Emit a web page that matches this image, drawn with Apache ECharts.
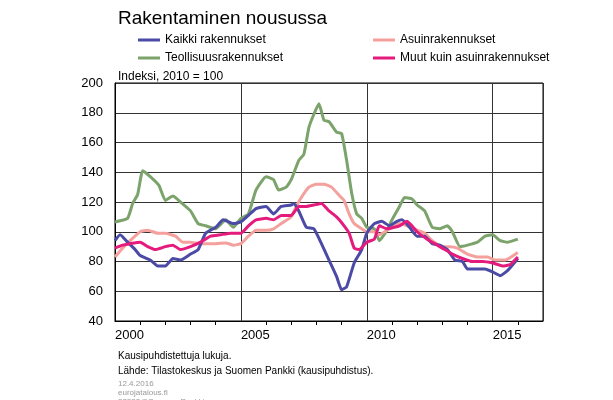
<!DOCTYPE html>
<html>
<head>
<meta charset="utf-8">
<script src="https://cdn.jsdelivr.net/npm/echarts@6/dist/echarts.min.js"></script>
<style>
body{margin:0;background:#fff;font-family:"Liberation Sans",Arial,sans-serif;}
#chart{width:613px;height:400px;}
</style>
</head>
<body>
<div id="chart"></div>
<script>
// [year, index] pairs
const kaikki = [[2000,94],[2000.2,98],[2000.5,93],[2000.8,88],[2001,84],[2001.4,81],[2001.7,77],[2002,77],[2002.3,82],[2002.6,81],[2003,85],[2003.3,88],[2003.6,99],[2004,103],[2004.3,108],[2004.7,105.5],[2005,106.6],[2005.3,111],[2005.6,115.6],[2006,117],[2006.3,112],[2006.6,117],[2007,118],[2007.1,119],[2007.3,114],[2007.6,103],[2007.9,102],[2008.2,92],[2008.5,81],[2008.8,70],[2009,61],[2009.2,63],[2009.5,79],[2009.8,88],[2010,99],[2010.3,105.5],[2010.6,107],[2010.9,104],[2011.2,107],[2011.4,108],[2011.7,103],[2012,97],[2012.3,97],[2012.6,92],[2012.9,91],[2013.2,88],[2013.5,81],[2013.8,80],[2014,75],[2014.4,75],[2014.7,75],[2015,73],[2015.3,70.5],[2015.6,74],[2016,82]];
const asuin = [[2000,83],[2000.3,89],[2000.6,94],[2001,100],[2001.3,101],[2001.7,99],[2002,99],[2002.4,97],[2002.7,93],[2003,93],[2003.4,92],[2003.7,92],[2004,92],[2004.4,92.5],[2004.7,91],[2005,92],[2005.3,97],[2005.6,101],[2006,101],[2006.3,102],[2006.6,105.5],[2007,110],[2007.2,117],[2007.4,123],[2007.7,130],[2008,132],[2008.3,132],[2008.6,130],[2008.9,124.5],[2009.1,121],[2009.3,112],[2009.5,105.5],[2009.8,102],[2010,100],[2010.3,100],[2010.5,98],[2010.8,101],[2011,103],[2011.3,105.5],[2011.6,104],[2012,101],[2012.3,99],[2012.6,94],[2013,90],[2013.3,90],[2013.6,89],[2014,85],[2014.4,83],[2014.8,83],[2015.1,81],[2015.5,81],[2016,86]];
const teollisuus = [[2000,106.6],[2000.5,109],[2000.7,119],[2000.9,125],[2001.1,141],[2001.4,137],[2001.75,131],[2002,121],[2002.3,124],[2002.6,120],[2003,114],[2003.3,105.5],[2003.6,104],[2004,102],[2004.4,108],[2004.7,103],[2005,109],[2005.3,112],[2005.6,128],[2006,137],[2006.3,135],[2006.5,128],[2006.8,130],[2007,135],[2007.3,148],[2007.5,152],[2007.7,170],[2007.9,179],[2008.1,186],[2008.3,175],[2008.5,174],[2008.8,167],[2009,166],[2009.2,148],[2009.4,126],[2009.6,112],[2009.8,109],[2010,103],[2010.3,102],[2010.5,94],[2010.8,101],[2011,108],[2011.3,117],[2011.5,123],[2011.8,122],[2012,118],[2012.3,114],[2012.6,103],[2012.9,102],[2013.2,104],[2013.4,100],[2013.7,90],[2014,91],[2014.4,93],[2014.7,97],[2015,98],[2015.3,94],[2015.6,93],[2016,95]];
const muut = [[2000,89],[2000.3,91],[2000.6,92],[2001,93],[2001.3,90],[2001.6,88],[2002,90],[2002.3,91],[2002.6,88],[2003,90],[2003.4,93],[2003.8,97],[2004.2,98],[2004.6,99],[2005,99],[2005.3,104],[2005.6,108],[2006,109],[2006.3,108],[2006.6,111],[2007,111],[2007.3,117],[2007.6,117],[2007.9,118],[2008.2,119],[2008.5,114],[2008.8,110],[2009.1,104],[2009.3,99],[2009.5,89],[2009.7,88],[2010,93],[2010.3,95],[2010.5,104],[2010.8,102],[2011.1,103],[2011.3,104],[2011.6,107],[2012,100],[2012.4,95],[2012.7,92],[2013,89],[2013.4,85],[2013.8,82],[2014.2,80],[2014.6,80],[2015,79],[2015.4,77],[2015.7,78],[2016,83]];

const seriesNames = ['Kaikki rakennukset','Asuinrakennukset','Teollisuusrakennukset','Muut kuin asuinrakennukset'];
const colors = ['#4b4ba6','#f4a09c','#7ba36b','#e41a7c'];
const seriesData = [kaikki, asuin, teollisuus, muut];
// draw order: green at back
const order = [2,1,0,3];

const mychart = echarts.init(document.getElementById('chart'));
const txt = {fontFamily:'Liberation Sans', color:'#000'};
const legendBase = {orient:'vertical', top:29, itemGap:6, itemWidth:22, itemHeight:3, icon:'rect',
    textStyle:{...txt, fontSize:12}};
const option = {
    animation:false,
    textStyle: txt,
    title: [
        {text:'Rakentaminen nousussa', left:113, top:4, textStyle:{...txt, fontSize:19, fontWeight:'normal'}},
        {text:'Indeksi, 2010 = 100', left:113, top:66, textStyle:{...txt, fontSize:12, fontWeight:'normal'}},
        {text:'Kausipuhdistettuja lukuja.\nLähde: Tilastokeskus ja Suomen Pankki (kausipuhdistus).', left:113, top:344,
            textStyle:{...txt, fontSize:10, fontWeight:'normal', lineHeight:15}},
        {text:'12.4.2016\neurojatalous.fi\n32532@Suomen Pankki', left:113, top:374,
            textStyle:{...txt, color:'#999', fontSize:8, fontWeight:'normal', lineHeight:9}}
    ],
    legend: [
        {...legendBase, data:[seriesNames[0], seriesNames[2]], left:133},
        {...legendBase, data:[seriesNames[1], seriesNames[3]], left:368}
    ],
    grid: {left:115, right:70, top:83, bottom:79, show:true, borderColor:'#000', borderWidth:1},
    xAxis: {
        type:'value', min:2000, max:2017, interval:5,
        axisLine:{lineStyle:{color:'#000'}},
        axisTick:{show:false},
        minorTick:{show:true, splitNumber:5, inside:true, length:4, lineStyle:{color:'#000'}},
        splitLine:{show:true, lineStyle:{color:'#333', width:1}},
        axisLabel:{align:'left', fontSize:13, color:'#000', formatter:v => v < 2017 ? String(v) : ''}
    },
    yAxis: {
        type:'value', min:40, max:200, interval:20,
        axisLine:{show:true, lineStyle:{color:'#000'}},
        axisTick:{show:false},
        splitLine:{lineStyle:{color:'#333', width:1}},
        axisLabel:{fontSize:13, color:'#000', margin:12}
    },
    series: order.map(i => ({
        name: seriesNames[i], type:'line', data: seriesData[i], showSymbol:false,
        smooth:0.15, lineStyle:{color:colors[i], width:3}, itemStyle:{color:colors[i]}
    }))
};
mychart.setOption(option);
</script>
</body>
</html>
